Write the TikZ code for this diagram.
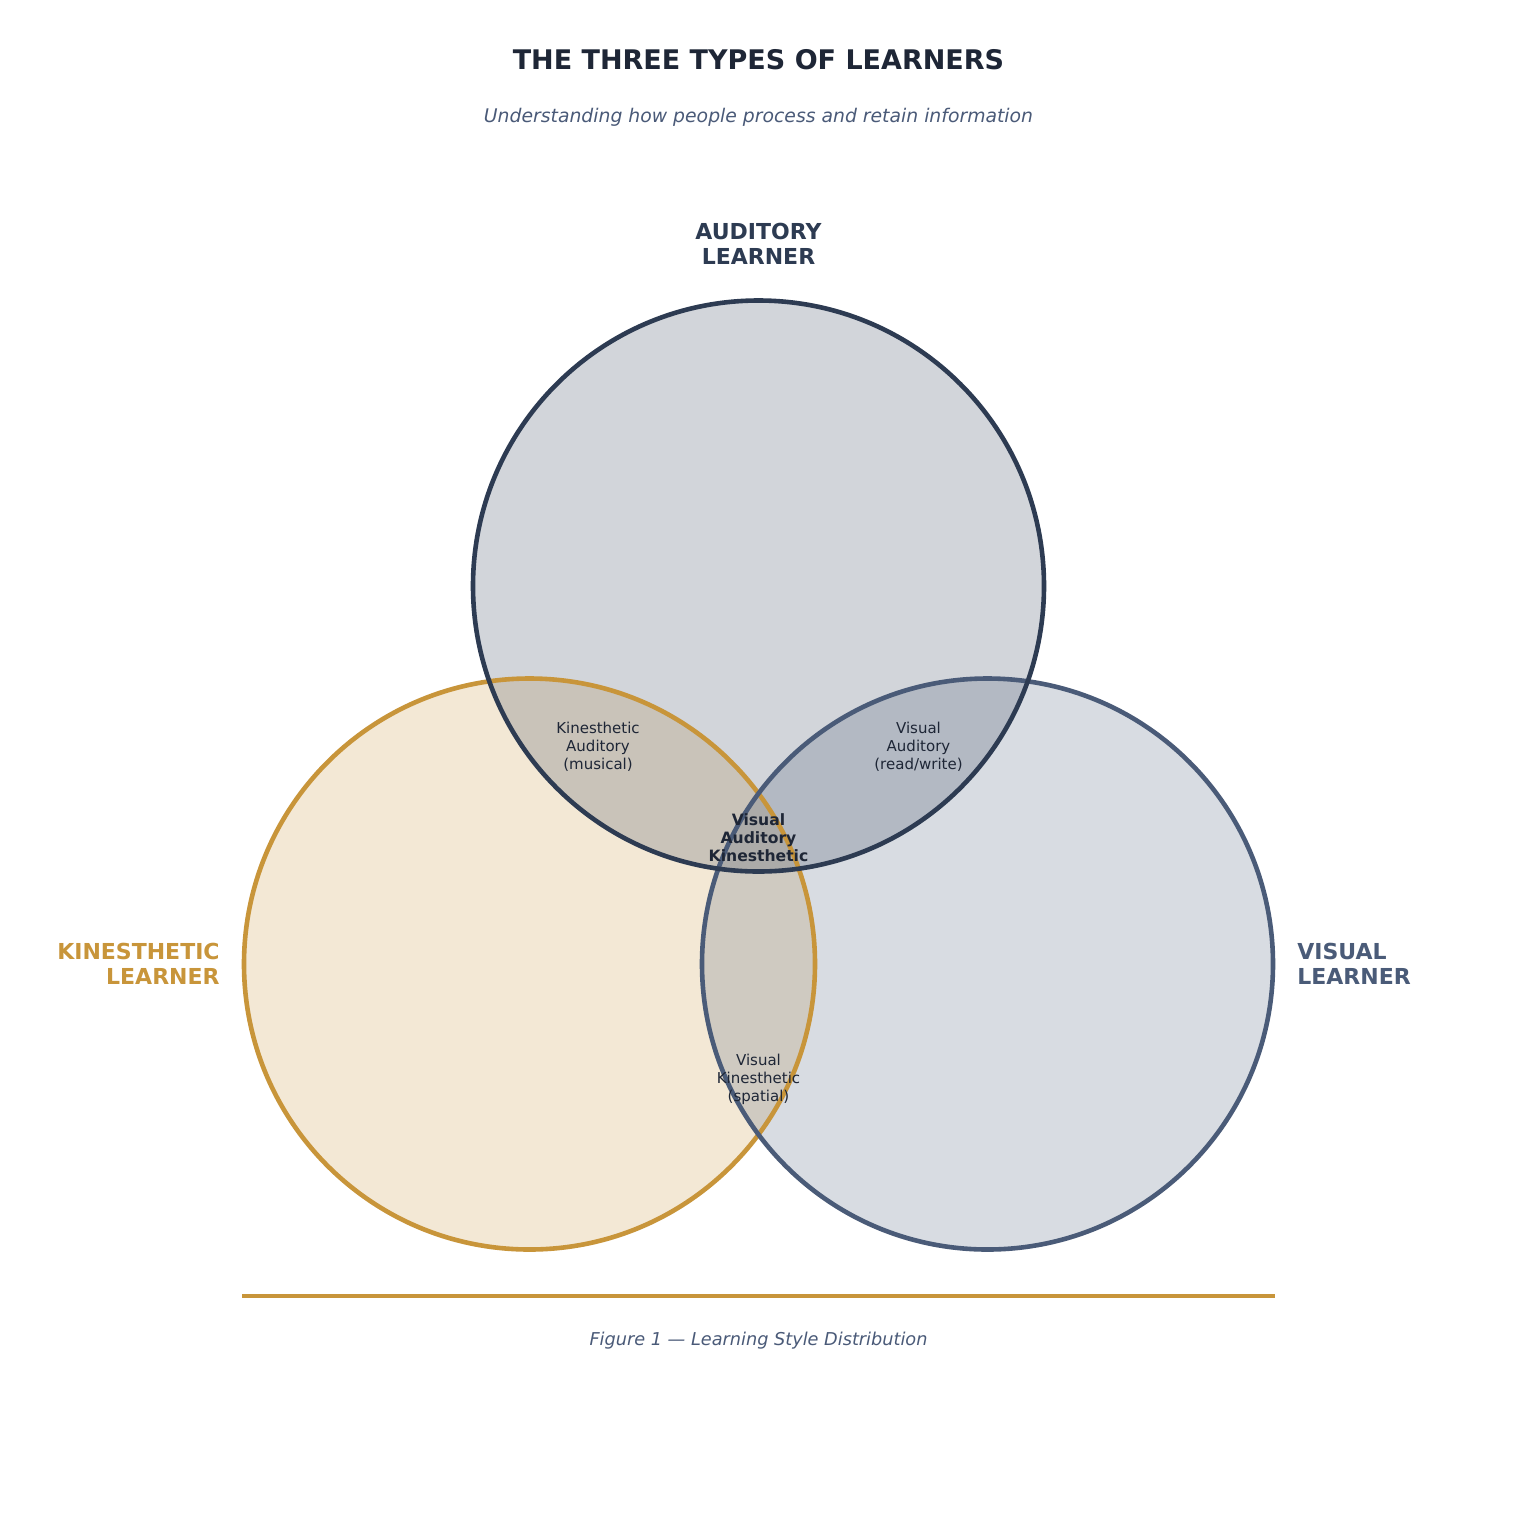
\documentclass[tikz,border=0pt]{standalone}
\usepackage{fontspec}
\setmainfont{DejaVu Sans}
\definecolor{audc}{HTML}{2D3B52}
\definecolor{visc}{HTML}{4A5B78}
\definecolor{kinc}{HTML}{C8953A}
\definecolor{titlec}{HTML}{1E2636}
\definecolor{subc}{HTML}{4A5A78}
\tikzset{
  setfill/.style={fill opacity=0.21},
  setstroke/.style={line width=2.3pt},
  biglabel/.style={font=\fontsize{11}{12.5}\selectfont\bfseries, align=center, inner sep=0pt},
  regionlabel/.style={font=\fontsize{7.5}{9}\selectfont, text=titlec, align=center, inner sep=0pt},
  centerlabel/.style={font=\fontsize{7.8}{9}\selectfont\bfseries, text=titlec, align=center, inner sep=0pt}
}
\begin{document}
\begin{tikzpicture}[x=0.5pt,y=0.5pt]
\useasboundingbox[fill=white] (0,0) rectangle (1517,-1517);
% circle centres
\coordinate (kinC) at (529.5,-964);
\coordinate (visC) at (987.5,-964);
\coordinate (audC) at (758.5,-586);
% fills
\fill[setfill, kinc] (kinC) circle[radius=285.5];
\fill[setfill, visc] (visC) circle[radius=285.5];
\fill[setfill, audc] (audC) circle[radius=285.5];
% outlines
\draw[setstroke, kinc] (kinC) circle[radius=285.5];
\draw[setstroke, visc] (visC) circle[radius=285.5];
\draw[setstroke, audc] (audC) circle[radius=285.5];
% title
\node[font=\fontsize{13.5}{16}\selectfont\bfseries, text=titlec, inner sep=0pt] (title) at (758.5,-60) {THE THREE TYPES OF LEARNERS};
\node[font=\fontsize{9.4}{11}\selectfont\itshape, text=subc, inner sep=0pt] (subtitle) at (758.5,-117.5) {Understanding how people process and retain information};
% set labels
\node[biglabel, text=audc] (audlabel) at (758.5,-243.5) {AUDITORY\\LEARNER};
\node[biglabel, text=kinc, anchor=east, align=right] (kinlabel) at (220,-963.5) {KINESTHETIC\\LEARNER};
\node[biglabel, text=visc, anchor=west, align=left] (vislabel) at (1297,-963.5) {VISUAL\\LEARNER};
% region labels
\node[regionlabel] (ka) at (598,-747) {Kinesthetic\\Auditory\\(musical)};
\node[regionlabel] (va) at (918.5,-747) {Visual\\Auditory\\(read/write)};
\node[regionlabel] (vk) at (758.5,-1079) {Visual\\Kinesthetic\\(spatial)};
\node[centerlabel] (vak) at (758.5,-838) {Visual\\Auditory\\Kinesthetic};
% divider and caption
\coordinate (lineL) at (242,-1296);
\coordinate (lineR) at (1275,-1296);
\draw[kinc, line width=2pt] (lineL) -- (lineR);
\node[font=\fontsize{8.85}{10}\selectfont\itshape, text=subc, inner sep=0pt] (caption) at (758.5,-1340.5) {Figure 1 — Learning Style Distribution};
\end{tikzpicture}
\end{document}
